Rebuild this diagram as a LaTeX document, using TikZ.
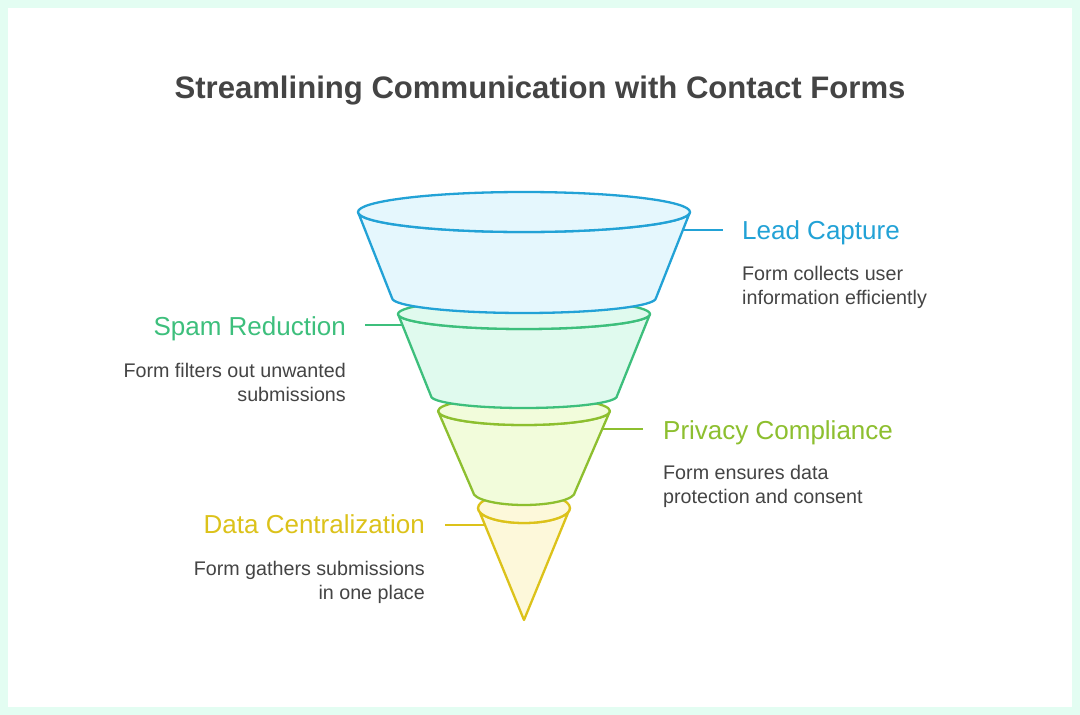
\documentclass[tikz,border=0pt]{standalone}
\usepackage{fontspec}
\setmainfont{Liberation Sans}
\begin{document}
\begin{tikzpicture}[x=1pt,y=1pt,line join=round]
\definecolor{mint}{HTML}{E3FDF2}
\definecolor{txt}{HTML}{444444}
\definecolor{bS}{HTML}{22A2D6}\definecolor{bF}{HTML}{E5F7FD}
\definecolor{gS}{HTML}{3DBF7C}\definecolor{gF}{HTML}{E0FAEE}
\definecolor{ygS}{HTML}{8DBF2F}\definecolor{ygF}{HTML}{F2FCDB}
\definecolor{yS}{HTML}{DCC21A}\definecolor{yF}{HTML}{FDF8DA}
\tikzset{
  seg/.style={line width=2.3pt},
  head/.style={inner sep=0pt,font=\fontsize{26}{30}\selectfont},
  body/.style={inner sep=0pt,text=txt,font=\fontsize{19.7}{24}\selectfont},
  conn/.style={line width=2.1pt}
}
\useasboundingbox (0,0) rectangle (1080,-715);
\fill[mint] (0,0) rectangle (1080,-715);
\fill[white] (8,-8) rectangle (1072,-707);
% title
\node[inner sep=0pt,anchor=base,text=txt,font=\fontsize{31.1}{36}\selectfont\bfseries] (title) at (540,-98) {Streamlining Communication with Contact Forms};
% yellow segment
\path[seg,draw=yS,fill=yF] (478,-508) -- (524,-620) -- (570,-508) arc[start angle=0,end angle=-180,x radius=46,y radius=15] -- cycle;
\path[seg,draw=yS,fill=yF] (524,-508) ellipse[x radius=46,y radius=15];
% yellow-green segment
\path[seg,draw=ygS,fill=ygF] (438,-411) -- (473,-492) arc[start angle=180,end angle=360,x radius=51,y radius=13] -- (610,-411) arc[start angle=0,end angle=-180,x radius=86,y radius=14] -- cycle;
\path[seg,draw=ygS,fill=ygF] (524,-411) ellipse[x radius=86,y radius=14];
% green segment
\path[seg,draw=gS,fill=gF] (398,-314) -- (431,-396) arc[start angle=180,end angle=360,x radius=93,y radius=12] -- (650,-314) arc[start angle=0,end angle=-180,x radius=126,y radius=15] -- cycle;
\path[seg,draw=gS,fill=gF] (524,-314) ellipse[x radius=126,y radius=15];
% blue segment
\path[seg,draw=bS,fill=bF] (358,-212) -- (392,-298) arc[start angle=180,end angle=360,x radius=132,y radius=15] -- (690,-212) arc[start angle=0,end angle=-180,x radius=166,y radius=20] -- cycle;
\path[seg,draw=bS,fill=bF] (524,-212) ellipse[x radius=166,y radius=20];
% connector points
\coordinate (bA) at (683,-230); \coordinate (bB) at (723,-230);
\coordinate (gA) at (403,-325); \coordinate (gB) at (365,-325);
\coordinate (ygA) at (602,-429); \coordinate (ygB) at (643,-429);
\coordinate (yA) at (485,-525); \coordinate (yB) at (445,-525);
\draw[conn,bS] (bA) -- (bB);
\draw[conn,gS] (gA) -- (gB);
\draw[conn,ygS] (ygA) -- (ygB);
\draw[conn,yS] (yA) -- (yB);
% labels
\node[head,text=bS,anchor=base west] (lc) at (742,-239) {Lead Capture};
\node[body,anchor=base west] (lc1) at (742,-280) {Form collects user};
\node[body,anchor=base west] (lc2) at (742,-304) {information efficiently};
\node[head,text=gS,anchor=base east] (sr) at (346,-335) {Spam Reduction};
\node[body,anchor=base east] (sr1) at (346,-377) {Form filters out unwanted};
\node[body,anchor=base east] (sr2) at (346,-401) {submissions};
\node[head,text=ygS,anchor=base west] (pc) at (663,-439) {Privacy Compliance};
\node[body,anchor=base west] (pc1) at (663,-479) {Form ensures data};
\node[body,anchor=base west] (pc2) at (663,-503) {protection and consent};
\node[head,text=yS,anchor=base east] (dc) at (425,-533) {Data Centralization};
\node[body,anchor=base east] (dc1) at (425,-575) {Form gathers submissions};
\node[body,anchor=base east] (dc2) at (425,-599) {in one place};
\end{tikzpicture}
\end{document}
